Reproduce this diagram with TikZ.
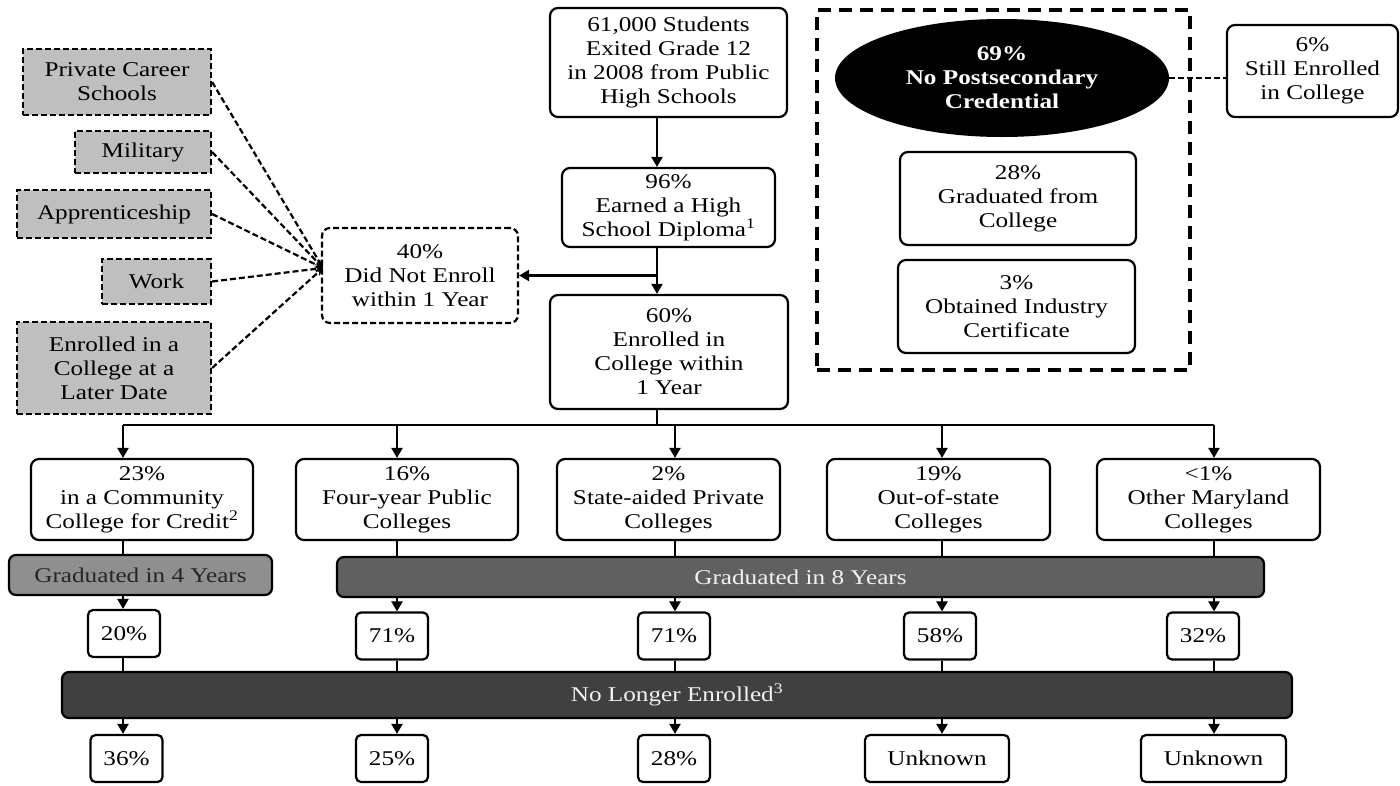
\documentclass[tikz,border=0pt]{standalone}
\usepackage{fontspec}
\setmainfont{Liberation Serif}[FakeStretch=1.2]
\usetikzlibrary{arrows.meta, shapes.geometric}
\definecolor{BoxGray}{HTML}{BFBFBF}
\definecolor{BandMid}{HTML}{8F8F8F}
\definecolor{BandDark}{HTML}{606060}
\definecolor{BandDeep}{HTML}{404040}
\definecolor{BandText}{HTML}{F2F2F2}

\tikzset{
  txt/.style={font=\fontsize{21}{24}\selectfont, align=center, inner sep=0pt, line width=2.2pt},
  box/.style={txt, draw, rounded corners=8pt, fill=white},
  pct/.style={box, rounded corners=5pt, minimum width=72pt, minimum height=47pt},
  graybox/.style={txt, draw, fill=BoxGray, dash pattern=on 6pt off 3pt},
  band/.style={txt, draw, rounded corners=7pt},
  link/.style={line width=2.2pt},
  arr/.style={link, -{Triangle[length=10pt,width=11pt]}},
  dasharr/.style={link, dash pattern=on 6pt off 3pt, -{Stealth[length=8pt,width=7pt]}},
}

\begin{document}
\begin{tikzpicture}[x=1pt, y=-1pt]
\useasboundingbox (0,0) rectangle (1400,785);

% main column
\node[box, minimum width=237pt, minimum height=109pt] (top) at (668.5,62.5)
  {61,000 Students\\Exited Grade 12\\in 2008 from Public\\High Schools};
\node[box, minimum width=213pt, minimum height=79pt] (dipl) at (668.5,207.5)
  {96\%\\Earned a High\\School Diploma\textsuperscript{1}};
\node[box, minimum width=238pt, minimum height=114pt] (enr) at (669,352)
  {60\%\\Enrolled in\\College within\\1 Year};
\node[box, dash pattern=on 6pt off 3pt, minimum width=196pt, minimum height=95pt] (didnot) at (420,275.5)
  {40\%\\Did Not Enroll\\within 1 Year};

% where the non-enrolled went
\node[graybox, minimum width=188pt, minimum height=66pt] (priv) at (117,82) {Private Career\\Schools};
\node[graybox, minimum width=136pt, minimum height=42pt] (mil) at (143,152) {Military};
\node[graybox, minimum width=194pt, minimum height=48pt] (appr) at (114,214) {Apprenticeship};
\node[graybox, minimum width=109pt, minimum height=45pt] (work) at (156.5,281.5) {Work};
\node[graybox, minimum width=194pt, minimum height=92pt] (later) at (114,368)
  {Enrolled in a\\College at a\\Later Date};

% outcome panel
\node[draw, line width=3.4pt, dash pattern=on 13pt off 8pt, minimum width=373pt, minimum height=360pt] (frame) at (1003.5,190) {};
\node[ellipse, fill=black, text=white, align=center, inner sep=0pt, minimum width=334pt, minimum height=118pt,
  font=\fontsize{21}{24}\selectfont\bfseries] (nopost) at (1002,78) {69\%\\No Postsecondary\\Credential};
\node[box, minimum width=236pt, minimum height=93pt] (grad) at (1018,198.5) {28\%\\Graduated from\\College};
\node[box, minimum width=237pt, minimum height=93pt] (cert) at (1016.5,306.5) {3\%\\Obtained Industry\\Certificate};
\node[box, minimum width=171pt, minimum height=92pt] (still) at (1312.5,71) {6\%\\Still Enrolled\\in College};

% college types
\node[box, minimum width=222pt, minimum height=81pt] (cc) at (142,499.5) {23\%\\in a Community\\College for Credit\textsuperscript{2}};
\node[box, minimum width=222pt, minimum height=81pt] (fy) at (407,499.5) {16\%\\Four-year Public\\Colleges};
\node[box, minimum width=223pt, minimum height=81pt] (sa) at (668.5,499.5) {2\%\\State-aided Private\\Colleges};
\node[box, minimum width=223pt, minimum height=81pt] (os) at (938.5,499.5) {19\%\\Out-of-state\\Colleges};
\node[box, minimum width=223pt, minimum height=81pt] (om) at (1208.5,499.5) {<1\%\\Other Maryland\\Colleges};

% bands
\node[band, fill=BandMid, text=black!85, minimum width=263pt, minimum height=40pt] (grad4) at (140.5,575) {Graduated in 4 Years};
\node[band, fill=BandDark, text=BandText, minimum width=927pt, minimum height=40pt] (grad8) at (800.5,577) {Graduated in 8 Years};
\node[band, fill=BandDeep, text=BandText, minimum width=1230pt, minimum height=46pt] (gone) at (677,695) {No Longer Enrolled\textsuperscript{3}};

% rates
\node[pct] (g1) at (124,633.5) {20\%};
\node[pct] (g2) at (392,636) {71\%};
\node[pct] (g3) at (674,636) {71\%};
\node[pct] (g4) at (940,636) {58\%};
\node[pct] (g5) at (1203,636) {32\%};
\node[pct] (n1) at (126.5,758.5) {36\%};
\node[pct] (n2) at (392,758.5) {25\%};
\node[pct] (n3) at (674,758.5) {28\%};
\node[pct, minimum width=144pt] (n4) at (937,758.5) {Unknown};
\node[pct, minimum width=145pt] (n5) at (1213.5,758.5) {Unknown};

% connectors
\coordinate (sp) at (657,0);
\coordinate (meet) at (323,268);
\draw[arr] (sp |- top.south) -- (sp |- dipl.north);
\draw[arr] (sp |- dipl.south) -- (sp |- enr.north);
\draw[arr] (sp |- didnot.east) -- (didnot.east);
\foreach \src in {priv, mil, appr, work, later}
  \draw[dasharr] (\src.east) -- (meet);
\draw[link, dash pattern=on 6pt off 3pt] (nopost.east) -- (nopost.east -| still.west);

\coordinate (c1) at (123,425);
\coordinate (c2) at (397,425);
\coordinate (c3) at (675,425);
\coordinate (c4) at (942,425);
\coordinate (c5) at (1214,425);
\draw[link] (sp |- enr.south) -- (sp |- c1);
\draw[link] (c1) -- (c5);
\draw[arr] (c1) -- (c1 |- cc.north);
\draw[arr] (c2) -- (c2 |- fy.north);
\draw[arr] (c3) -- (c3 |- sa.north);
\draw[arr] (c4) -- (c4 |- os.north);
\draw[arr] (c5) -- (c5 |- om.north);

\draw[link] (c1 |- cc.south) -- (c1 |- grad4.north);
\draw[arr] (c1 |- grad4.south) -- (c1 |- g1.north);
\foreach \c/\t/\g in {c2/fy/g2, c3/sa/g3, c4/os/g4, c5/om/g5} {
  \draw[link] (\c |- \t.south) -- (\c |- grad8.north);
  \draw[arr] (\c |- grad8.south) -- (\c |- \g.north);
}
\foreach \c/\g/\n in {c1/g1/n1, c2/g2/n2, c3/g3/n3, c4/g4/n4, c5/g5/n5} {
  \draw[link] (\c |- \g.south) -- (\c |- gone.north);
  \draw[arr] (\c |- gone.south) -- (\c |- \n.north);
}
\end{tikzpicture}
\end{document}
